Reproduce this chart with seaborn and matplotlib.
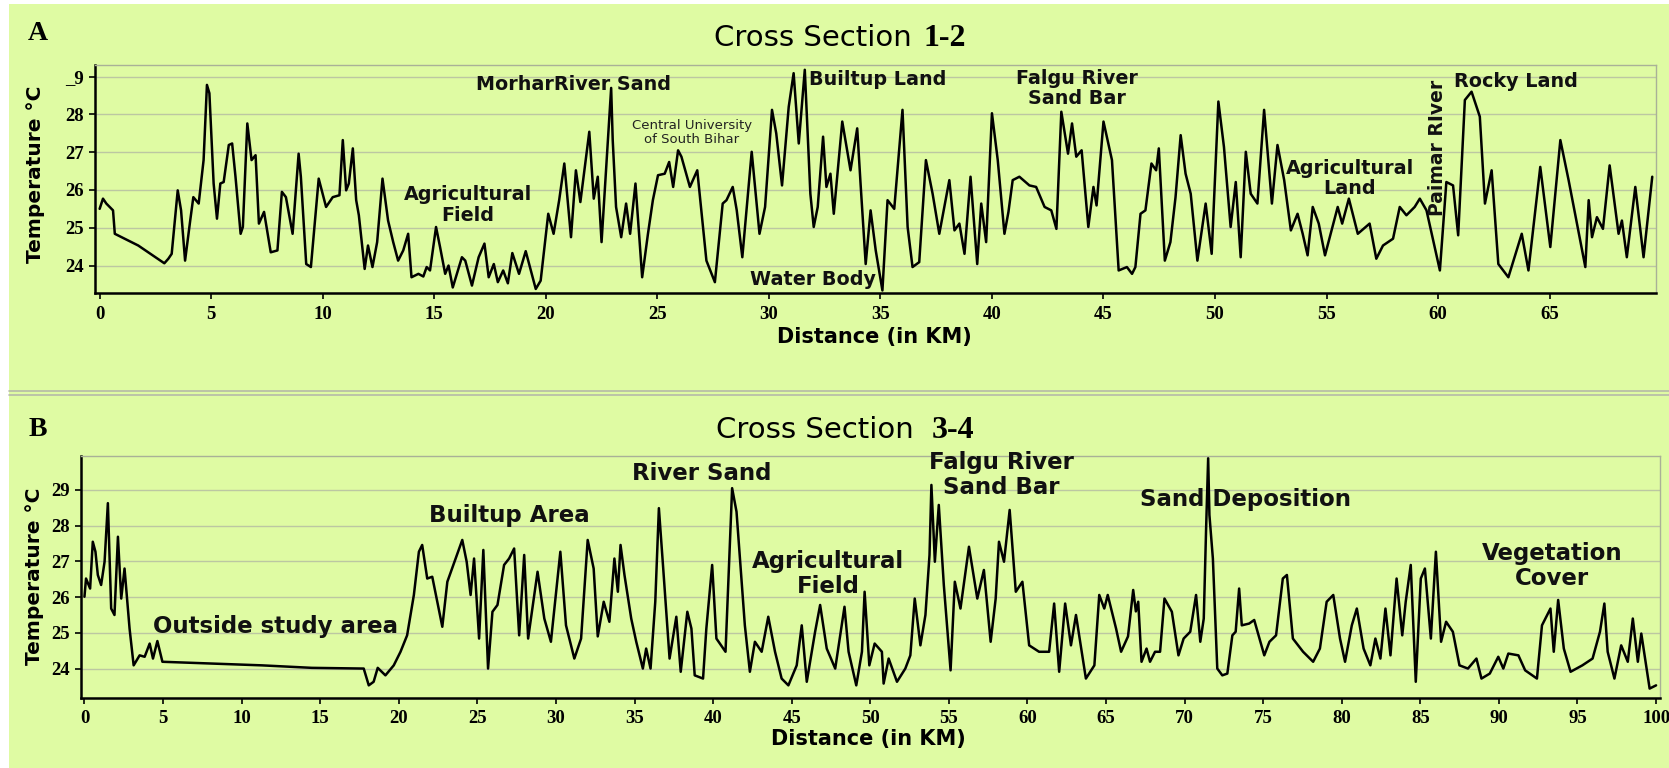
import numpy as np
import pandas as pd
import matplotlib
matplotlib.use("Agg")
import matplotlib.pyplot as plt
from matplotlib.lines import Line2D
from matplotlib.patches import Rectangle
import seaborn as sns

# ── Data ─────────────────────────────────────────────────────────────────────

# Cross section 1-2 (panel A)
top_km = [0.0, 0.15, 0.3, 0.45, 0.6, 0.68, 1.73, 2.9, 3.08, 3.23, 3.5, 3.65, 3.83, 4.06, 4.2, 4.44,
          4.66, 4.81, 4.92, 5.11, 5.26, 5.41, 5.56, 5.79, 5.94, 6.09, 6.32, 6.42, 6.62, 6.81, 6.99,
          7.14, 7.37, 7.67, 7.97, 8.17, 8.35, 8.65, 8.92, 9.02, 9.26, 9.47, 9.82, 10.15, 10.45,
          10.75, 10.9, 11.05, 11.17, 11.35, 11.5, 11.62, 11.88, 12.03, 12.23, 12.44, 12.68, 12.93,
          13.16, 13.38, 13.61, 13.83, 13.98, 14.29, 14.51, 14.66, 14.81, 15.08, 15.26, 15.49, 15.64,
          15.83, 16.24, 16.39, 16.69, 16.99, 17.25, 17.44, 17.67, 17.85, 18.09, 18.3, 18.5, 18.8,
          19.1, 19.55, 19.77, 20.11, 20.35, 20.6, 20.83, 21.13, 21.35, 21.55, 21.95, 22.15, 22.33,
          22.5, 22.93, 23.0, 23.15, 23.38, 23.6, 23.78, 24.02, 24.32, 24.58, 24.8, 25.03, 25.33,
          25.53, 25.71, 25.93, 26.08, 26.46, 26.79, 27.2, 27.58, 27.93, 28.1, 28.38, 28.56, 28.81,
          29.23, 29.58, 29.83, 30.14, 30.33, 30.59, 30.89, 31.11, 31.34, 31.61, 31.86, 32.01, 32.19,
          32.43, 32.58, 32.76, 32.91, 33.29, 33.66, 33.96, 34.11, 34.34, 34.56, 34.79, 35.09, 35.32,
          35.62, 35.99, 36.22, 36.44, 36.74, 37.04, 37.34, 37.64, 38.09, 38.32, 38.54, 38.77, 39.04,
          39.34, 39.52, 39.74, 40.0, 40.26, 40.56, 40.74, 40.93, 41.23, 41.68, 41.98, 42.36, 42.66,
          42.89, 43.11, 43.41, 43.59, 43.78, 44.02, 44.32, 44.55, 44.69, 45.0, 45.38, 45.68, 46.05,
          46.28, 46.43, 46.66, 46.88, 47.15, 47.36, 47.48, 47.75, 48.0, 48.23, 48.46, 48.68, 48.91,
          49.21, 49.58, 49.85, 50.15, 50.4, 50.7, 50.93, 51.15, 51.38, 51.6, 51.9, 52.2, 52.55,
          52.8, 53.1, 53.4, 53.7, 53.93, 54.15, 54.38, 54.65, 54.93, 55.5, 55.7, 56.0, 56.4, 56.93,
          57.23, 57.53, 57.98, 58.28, 58.58, 58.95, 59.18, 59.48, 60.08, 60.37, 60.67, 60.9, 61.2,
          61.5, 61.87, 62.1, 62.4, 62.7, 63.15, 63.75, 64.05, 64.58, 65.03, 65.48, 65.85, 66.6,
          66.75, 66.9, 67.12, 67.39, 67.69, 68.09, 68.24, 68.46, 68.84, 69.21, 69.6]
top_temp = [25.5, 25.77, 25.64, 25.55, 25.46, 24.84, 24.53, 24.06, 24.18, 24.31, 25.99, 25.46, 24.13,
            25.19, 25.81, 25.64, 26.79, 28.78, 28.56, 26.17, 25.24, 26.17, 26.21, 27.19, 27.23,
            26.35, 24.84, 25.02, 27.76, 26.79, 26.92, 25.11, 25.42, 24.35, 24.4, 25.95, 25.81,
            24.84, 26.96, 26.35, 24.04, 23.96, 26.3, 25.55, 25.81, 25.86, 27.32, 25.99, 26.17, 27.1,
            25.73, 25.33, 23.91, 24.53, 23.96, 24.62, 26.3, 25.19, 24.62, 24.13, 24.4, 24.84, 23.69,
            23.78, 23.71, 23.96, 23.87, 25.02, 24.49, 23.78, 24.0, 23.42, 24.22, 24.13, 23.47, 24.22,
            24.58, 23.69, 24.04, 23.56, 23.87, 23.53, 24.33, 23.78, 24.38, 23.38, 23.6, 25.37, 24.84,
            25.73, 26.7, 24.75, 26.52, 25.68, 27.54, 25.77, 26.35, 24.62, 28.7, 27.32, 25.55, 24.75,
            25.64, 24.84, 26.17, 23.69, 24.84, 25.73, 26.39, 26.43, 26.74, 26.08, 27.05, 26.88,
            26.08, 26.52, 24.13, 23.56, 25.64, 25.73, 26.08, 25.46, 24.22, 27.01, 24.84, 25.55,
            28.12, 27.5, 26.12, 28.2, 29.09, 27.23, 29.18, 25.9, 25.02, 25.55, 27.41, 26.08, 26.43,
            25.37, 27.81, 26.52, 27.63, 26.17, 24.04, 25.46, 24.4, 23.34, 25.73, 25.5, 28.12, 25.02,
            23.96, 24.09, 26.79, 25.9, 24.84, 26.26, 24.93, 25.11, 24.31, 26.35, 24.04, 25.64, 24.62,
            28.03, 26.79, 24.84, 25.42, 26.26, 26.35, 26.12, 26.08, 25.55, 25.46, 24.97, 28.07,
            26.96, 27.76, 26.88, 27.05, 25.02, 26.08, 25.59, 27.81, 26.79, 23.87, 23.96, 23.78,
            23.96, 25.37, 25.46, 26.7, 26.52, 27.1, 24.13, 24.62, 25.81, 27.45, 26.43, 25.9, 24.13,
            25.64, 24.31, 28.34, 27.14, 25.02, 26.21, 24.22, 27.01, 25.9, 25.64, 28.12, 25.64, 27.19,
            26.26, 24.93, 25.37, 24.84, 24.27, 25.55, 25.11, 24.27, 25.55, 25.11, 25.77, 24.84,
            25.11, 24.18, 24.53, 24.71, 25.55, 25.33, 25.55, 25.77, 25.46, 23.87, 26.21, 26.12, 24.8,
            28.38, 28.6, 27.94, 25.64, 26.52, 24.04, 23.69, 24.84, 23.87, 26.61, 24.49, 27.32, 26.26,
            23.96, 25.73, 24.75, 25.28, 24.97, 26.65, 24.84, 25.19, 24.22, 26.08, 24.22, 26.35]

# Cross section 3-4 (panel B)
bot_km = [0.0, 0.1, 0.36, 0.53, 0.7, 0.85, 1.06, 1.28, 1.49, 1.7, 1.91, 2.13, 2.34, 2.55, 2.87, 3.13,
          3.51, 3.83, 4.15, 4.36, 4.64, 4.96, 8.09, 11.28, 14.47, 17.77, 18.09, 18.4, 18.66, 19.15,
          19.68, 20.11, 20.53, 20.96, 21.28, 21.49, 21.81, 22.13, 22.45, 22.77, 23.09, 23.62, 24.04,
          24.32, 24.57, 24.79, 25.11, 25.38, 25.68, 25.96, 26.28, 26.7, 27.02, 27.34, 27.66, 27.98,
          28.23, 28.83, 29.26, 29.68, 30.28, 30.64, 31.17, 31.6, 32.02, 32.4, 32.66, 33.04, 33.4,
          33.72, 33.94, 34.11, 34.36, 34.79, 35.11, 35.53, 35.74, 36.02, 36.32, 36.55, 36.81, 37.23,
          37.66, 37.94, 38.36, 38.62, 38.83, 39.36, 39.57, 39.94, 40.21, 40.79, 41.21, 41.49, 42.02,
          42.34, 42.66, 43.09, 43.51, 43.94, 44.36, 44.79, 45.32, 45.64, 45.96, 46.49, 46.81, 47.23,
          47.77, 48.36, 48.62, 49.11, 49.47, 49.64, 49.94, 50.28, 50.74, 50.85, 51.17, 51.7, 52.23,
          52.55, 52.83, 53.19, 53.51, 53.77, 53.89, 54.11, 54.36, 54.68, 55.11, 55.38, 55.74, 56.28,
          56.81, 57.23, 57.66, 57.98, 58.19, 58.51, 58.87, 59.26, 59.68, 60.11, 60.74, 61.38, 61.7,
          62.02, 62.4, 62.77, 63.09, 63.72, 64.26, 64.57, 64.89, 65.11, 65.64, 65.96, 66.4, 66.73,
          66.9, 67.05, 67.26, 67.58, 67.8, 68.12, 68.44, 68.72, 69.19, 69.61, 69.94, 70.36, 70.73,
          71.0, 71.22, 71.37, 71.5, 71.58, 71.8, 72.08, 72.4, 72.72, 73.04, 73.25, 73.47, 73.64,
          74.11, 74.43, 75.07, 75.4, 75.82, 76.25, 76.51, 76.89, 77.54, 78.18, 78.61, 79.04, 79.46,
          79.89, 80.21, 80.64, 80.96, 81.39, 81.82, 82.14, 82.46, 82.78, 83.1, 83.49, 83.85, 84.07,
          84.39, 84.71, 85.03, 85.29, 85.67, 85.99, 86.32, 86.64, 87.07, 87.49, 88.03, 88.57, 88.89,
          89.42, 89.96, 90.28, 90.6, 91.24, 91.67, 92.42, 92.74, 93.28, 93.49, 93.77, 94.13, 94.56,
          95.31, 95.96, 96.43, 96.71, 96.92, 97.35, 97.78, 98.2, 98.52, 98.84, 99.06, 99.59, 100.0]
bot_temp = [26.01, 26.52, 26.24, 27.55, 27.27, 26.62, 26.34, 26.99, 28.63, 25.68, 25.5, 27.69, 25.96,
            26.8, 25.12, 24.09, 24.37, 24.33, 24.7, 24.28, 24.77, 24.19, 24.14, 24.09, 24.02, 24.0,
            23.53, 23.63, 24.02, 23.81, 24.09, 24.47, 24.93, 26.06, 27.27, 27.46, 26.52, 26.57,
            25.87, 25.17, 26.43, 27.08, 27.6, 26.99, 26.06, 27.08, 24.84, 27.32, 24.0, 25.59, 25.78,
            26.9, 27.08, 27.36, 24.93, 27.18, 24.84, 26.71, 25.4, 24.75, 27.27, 25.21, 24.28, 24.84,
            27.6, 26.8, 24.9, 25.87, 25.31, 27.08, 26.15, 27.46, 26.62, 25.4, 24.75, 24.0, 24.56,
            24.0, 25.87, 28.49, 26.9, 24.28, 25.45, 23.91, 25.59, 25.12, 23.81, 23.72, 25.12, 26.9,
            24.84, 24.47, 29.05, 28.39, 25.21, 23.91, 24.75, 24.47, 25.45, 24.47, 23.72, 23.53,
            24.09, 25.21, 23.63, 25.03, 25.78, 24.56, 24.0, 25.73, 24.47, 23.53, 24.47, 26.15, 24.09,
            24.7, 24.47, 23.58, 24.28, 23.63, 24.0, 24.37, 25.96, 24.65, 25.5, 27.18, 29.14, 26.99,
            28.58, 26.34, 23.95, 26.43, 25.68, 27.41, 25.96, 26.76, 24.75, 25.96, 27.55, 26.99,
            28.44, 26.15, 26.43, 24.65, 24.47, 24.47, 25.82, 23.91, 25.82, 24.65, 25.5, 23.72, 24.09,
            26.06, 25.68, 26.06, 25.12, 24.47, 24.9, 26.2, 25.6, 25.87, 24.19, 24.56, 24.19, 24.47,
            24.47, 25.96, 25.59, 24.37, 24.84, 25.03, 26.06, 24.75, 25.4, 27.93, 29.89, 28.3, 27.08,
            24.0, 23.81, 23.86, 24.93, 25.03, 26.24, 25.21, 25.26, 25.36, 24.37, 24.75, 24.93, 26.52,
            26.62, 24.84, 24.47, 24.19, 24.56, 25.87, 26.06, 24.84, 24.19, 25.21, 25.68, 24.56,
            24.09, 24.84, 24.28, 25.68, 24.37, 26.52, 24.93, 25.87, 26.9, 23.63, 26.52, 26.8, 24.84,
            27.27, 24.75, 25.31, 25.03, 24.09, 24.0, 24.28, 23.72, 23.86, 24.33, 24.0, 24.42, 24.37,
            23.95, 23.72, 25.21, 25.68, 24.47, 25.92, 24.56, 23.91, 24.09, 24.28, 25.03, 25.82,
            24.47, 23.72, 24.65, 24.19, 25.4, 24.19, 24.98, 23.44, 23.53]

# Land-cover notes written on the profiles (text, km, temperature)
top_notes = ["Agricultural\nField", "MorharRiver Sand", "Builtup Land", "Water Body",
             "Falgu River\nSand Bar", "Agricultural\nLand", "Rocky Land"]
top_note_x = [16.5, 21.24, 34.86, 31.97, 43.8, 56.03, 63.48]
top_note_y = [25.6, 28.8, 28.91, 23.62, 28.69, 26.3, 28.87]

bot_notes = ["Outside study area", "Builtup Area", "River Sand", "Agricultural\nField",
             "Falgu River\nSand Bar", "Sand Deposition", "Vegetation\nCover"]
bot_note_x = [12.13, 27.06, 39.3, 47.3, 58.34, 73.9, 93.38]
bot_note_y = [25.17, 28.28, 29.47, 26.65, 29.42, 28.72, 26.86]

top_yticks = [24, 25, 26, 27, 28, 29]
top_yticklabels = ["24", "25", "26", "27", "28", "_9"]
bot_yticks = [24, 25, 26, 27, 28, 29]
bot_yticklabels = ["24", "25", "26", "27", "28", "29"]

# ── Layout helpers ───────────────────────────────────────────────────────────

W, H = 1669, 768
BG = "#dffba3"
GRID = "#bcc7a2"


def fx(x):
    return x / W


def fy(y):
    return 1 - y / H


def style_axes(ax, xlim, ylim, xticks, yticks, yticklabels):
    ax.set_facecolor(BG)
    ax.set_xlim(*xlim)
    ax.set_ylim(*ylim)
    ax.set_xticks(xticks)
    ax.set_yticks(yticks)
    ax.set_yticklabels(yticklabels)
    ax.grid(False)
    ax.yaxis.grid(True, color=GRID, linewidth=1.0)
    ax.set_axisbelow(True)
    for side in ["left", "bottom"]:
        ax.spines[side].set_color("black")
        ax.spines[side].set_linewidth(1.8)
    for side in ["top", "right"]:
        ax.spines[side].set_visible(True)
        ax.spines[side].set_color("#a9b197")
        ax.spines[side].set_linewidth(1.0)
    ax.tick_params(axis="both", direction="out", length=4, width=1.2, color="black",
                   labelcolor="black", labelsize=13.5)
    ax.tick_params(axis="x", pad=5)
    ax.tick_params(axis="y", pad=4)
    for lab in ax.get_xticklabels() + ax.get_yticklabels():
        lab.set_fontfamily("Liberation Serif")
        lab.set_fontweight("bold")


def draw_profile(ax, km, temp):
    df = pd.DataFrame({"km": km, "temp": temp})
    sns.lineplot(data=df, x="km", y="temp", ax=ax, color="black", linewidth=1.8,
                 estimator=None, sort=False)


def add_notes(ax, notes, xs, ys, size):
    for s, x, y in zip(notes, xs, ys):
        ax.text(x, y, s, ha="center", va="center", fontsize=size, fontweight="bold",
                family="DejaVu Sans", linespacing=1.1, color="#111111")


# ── Figure ──────────────────────────────────────────────────────────────────

sns.set_style("ticks")
fig = plt.figure(figsize=(W / 100, H / 100), dpi=100, facecolor="white")
fig.patches.append(Rectangle((fx(9), 0), 1 - fx(9), fy(4), transform=fig.transFigure,
                             facecolor=BG, edgecolor="none", zorder=-10))
for yy in (390.7, 395.0):
    fig.add_artist(Line2D([fx(9), 1], [fy(yy), fy(yy)], color="#b6baa8", linewidth=1.2))

# Panel A
ax1 = fig.add_axes([fx(95.4), fy(293.5), fx(1655.6 - 95.4), (293.5 - 64.5) / H])
draw_profile(ax1, top_km, top_temp)
style_axes(ax1, (-0.19, 69.75), (23.26, 29.32), np.arange(0, 70, 5), top_yticks, top_yticklabels)
add_notes(ax1, top_notes, top_note_x, top_note_y, 13.8)
ax1.text(26.55, 27.52, "Central University\nof South Bihar", ha="center", va="center",
         fontsize=9.5, family="DejaVu Sans", linespacing=1.05, color="#222222")
ax1.text(59.97, 27.12, "Paimar RIver", rotation=90, ha="center", va="center", fontsize=13.5,
         fontweight="bold", family="DejaVu Sans", color="#111111")
ax1.set_xlabel("Distance (in KM)", fontsize=15, fontweight="bold", family="DejaVu Sans",
               color="black")
ax1.set_ylabel("Temperature °C", fontsize=14.5, fontweight="bold", family="DejaVu Sans",
               color="black")
ax1.xaxis.set_label_coords(0.499, (293.5 - 336.7) / 229)
ax1.xaxis.label.set_va("center")
ax1.yaxis.set_label_coords((35.7 - 95.4) / 1560.2, 0.52)
ax1.yaxis.label.set_va("center")

# Panel B
ax2 = fig.add_axes([fx(81), fy(697.5), fx(1660 - 81), (697.5 - 456) / H])
draw_profile(ax2, bot_km, bot_temp)
style_axes(ax2, (-0.22, 100.25), (23.19, 29.95), np.arange(0, 101, 5), bot_yticks, bot_yticklabels)
add_notes(ax2, bot_notes, bot_note_x, bot_note_y, 16.5)
ax2.set_xlabel("Distance (in KM)", fontsize=15, fontweight="bold", family="DejaVu Sans",
               color="black")
ax2.set_ylabel("Temperature °C", fontsize=14.5, fontweight="bold", family="DejaVu Sans",
               color="black")
ax2.xaxis.set_label_coords(0.4988, (697.5 - 739.3) / 241.5)
ax2.xaxis.label.set_va("center")
ax2.yaxis.set_label_coords((34 - 81) / 1579, 0.5)
ax2.yaxis.label.set_va("center")

# Panel letters and titles
fig.text(fx(37.5), fy(33.5), "A", ha="center", va="center", fontsize=20, fontweight="bold",
         family="Liberation Serif", color="black")
fig.text(fx(37.5), fy(430), "B", ha="center", va="center", fontsize=20, fontweight="bold",
         family="Liberation Serif", color="black")
fig.text(fx(912), fy(38.5), "Cross Section", ha="right", va="center", fontsize=21,
         family="DejaVu Sans", color="black")
fig.text(fx(923), fy(38.5), "1-2", ha="left", va="center", fontsize=23, fontweight="bold",
         family="Liberation Serif", color="black")
fig.text(fx(914), fy(430), "Cross Section", ha="right", va="center", fontsize=21,
         family="DejaVu Sans", color="black")
fig.text(fx(932), fy(430), "3-4", ha="left", va="center", fontsize=23, fontweight="bold",
         family="Liberation Serif", color="black")

fig.savefig("out.png", dpi=100, facecolor=fig.get_facecolor())
